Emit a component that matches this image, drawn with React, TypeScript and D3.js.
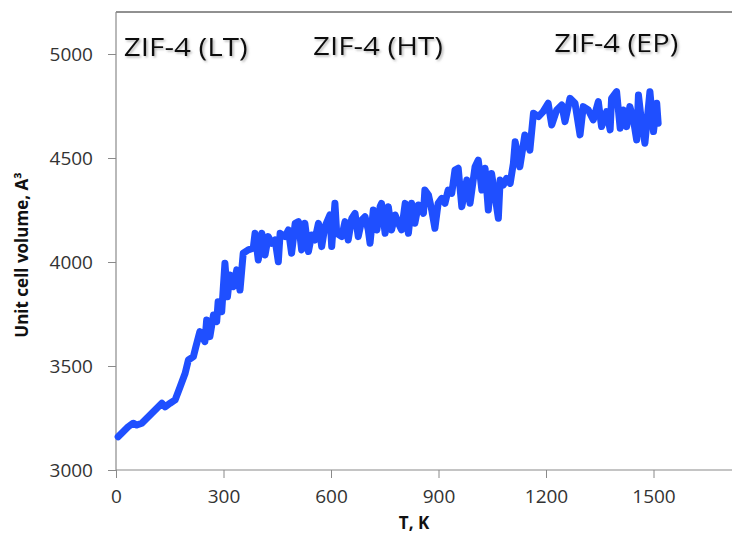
import React, { useEffect, useRef } from "react";
import { select, scaleLinear, axisLeft, axisBottom, line, format } from "d3";

// temperature (K) and unit cell volume (A^3)
const temps = [
  6, 20, 34, 48, 58, 72, 86, 100, 114, 128, 137, 151, 165, 179, 193, 202, 216, 223, 234, 248,
  253, 262, 272, 281, 285, 295, 304, 311, 318, 327, 337, 346, 355, 369, 383, 388, 397, 407, 416, 425,
  435, 444, 453, 458, 472, 481, 490, 500, 509, 518, 527, 537, 546, 555, 565, 574, 583, 597, 602, 611,
  616, 630, 639, 648, 658, 667, 676, 686, 695, 704, 709, 718, 728, 737, 741, 751, 760, 769, 779, 788,
  797, 807, 816, 825, 834, 844, 858, 862, 872, 881, 890, 899, 909, 918, 927, 937, 946, 955, 965, 979,
  988, 1002, 1011, 1021, 1030, 1039, 1048, 1058, 1067, 1072, 1081, 1090, 1100, 1109, 1114, 1127, 1141, 1155, 1165, 1179,
  1192, 1206, 1216, 1230, 1244, 1253, 1267, 1281, 1295, 1304, 1318, 1332, 1346, 1355, 1369, 1379, 1383, 1397, 1407, 1416,
  1425, 1434, 1444, 1453, 1458, 1467, 1476, 1490, 1500, 1509, 1513,
];
const volumes = [
  3160, 3184, 3208, 3225, 3216, 3225, 3249, 3273, 3297, 3321, 3304, 3321, 3337, 3400, 3465, 3529, 3545, 3593, 3665, 3617,
  3721, 3641, 3745, 3713, 3809, 3761, 3994, 3833, 3938, 3881, 3962, 3865, 4042, 4058, 4066, 4138, 4010, 4138, 4034, 4122,
  4090, 4106, 4001, 4138, 4122, 4154, 4042, 4186, 4194, 4058, 4186, 4050, 4130, 4106, 4186, 4074, 4170, 4226, 4074, 4282,
  4138, 4122, 4194, 4106, 4210, 4234, 4122, 4202, 4218, 4154, 4090, 4250, 4154, 4266, 4282, 4138, 4266, 4154, 4226, 4186,
  4154, 4282, 4138, 4282, 4186, 4274, 4234, 4346, 4322, 4250, 4162, 4282, 4306, 4282, 4346, 4330, 4442, 4451, 4266, 4394,
  4282, 4458, 4490, 4346, 4451, 4250, 4426, 4314, 4210, 4394, 4370, 4402, 4378, 4475, 4578, 4458, 4611, 4538, 4715, 4699,
  4723, 4763, 4659, 4731, 4755, 4675, 4787, 4763, 4611, 4747, 4731, 4683, 4771, 4651, 4723, 4635, 4787, 4819, 4643, 4731,
  4651, 4747, 4683, 4587, 4803, 4667, 4571, 4819, 4627, 4763, 4667,
];

const xTicks = [0, 300, 600, 900, 1200, 1500];
const yTicks = [3000, 3500, 4000, 4500, 5000];

const phaseLabels = ["ZIF-4 (LT)", "ZIF-4 (HT)", "ZIF-4 (EP)"];
const phaseT = [22, 550, 1223];
const phaseV = [4990, 4995, 5010];

const W = 732;
const H = 535;
const left = 116;
const top = 12;
const bottom = 470;

const App = () => {
  const xRef = useRef<SVGGElement>(null);
  const yRef = useRef<SVGGElement>(null);

  const x = scaleLinear().domain([0, 1500]).range([left, 653.5]);
  const y = scaleLinear().domain([3000, 5000]).range([bottom, 54]);

  const path = line<number>()
    .x((_, i) => x(temps[i]))
    .y((v) => y(v))(volumes);

  useEffect(() => {
    const fmt = format("d");
    const xa = select(xRef.current);
    xa.call(axisBottom(x).tickValues(xTicks).tickFormat(fmt as any).tickSize(8).tickPadding(12));
    xa.select(".domain").remove();
    xa.selectAll("line").attr("stroke", "#8a8a8a");
    xa.selectAll("text")
      .attr("fill", "#333")
      .style("font-family", "'Open Sans', sans-serif")
      .style("font-size", "19px");

    const ya = select(yRef.current);
    ya.call(axisLeft(y).tickValues(yTicks).tickFormat(fmt as any).tickSize(8).tickPadding(15));
    ya.select(".domain").remove();
    ya.selectAll("line").attr("stroke", "#8a8a8a");
    ya.selectAll("text")
      .attr("fill", "#333")
      .style("font-family", "'Open Sans', sans-serif")
      .style("font-size", "19px");
  }, []);

  return (
    <svg width={W} height={H} style={{ position: "absolute", left: 0, top: 0, background: "#fff" }}>
      <defs>
        <filter id="shadow" x="-10%" y="-30%" width="130%" height="180%">
          <feDropShadow dx="1.5" dy="1.5" stdDeviation="1" floodColor="#777" floodOpacity="0.55" />
        </filter>
      </defs>
      <line x1={left} x2={W} y1={top} y2={top} stroke="#222" strokeWidth={1} />
      <line x1={left} x2={left} y1={top} y2={bottom} stroke="#8a8a8a" strokeWidth={1.2} />
      <line x1={left} x2={W} y1={bottom} y2={bottom} stroke="#8a8a8a" strokeWidth={1.2} />
      <g ref={xRef} transform={`translate(0,${bottom})`} />
      <g ref={yRef} transform={`translate(${left},0)`} />

      <path
        d={path ?? ""}
        fill="none"
        stroke="#1f4fff"
        strokeWidth={7}
        strokeLinejoin="round"
        strokeLinecap="round"
      />

      {phaseLabels.map((t, i) => (
        <text
          key={t}
          x={x(phaseT[i])}
          y={y(phaseV[i])}
          fontFamily="'Open Sans', sans-serif"
          fontSize={26}
          fill="#111"
          textLength={i === 1 ? 130 : 124}
          lengthAdjust="spacingAndGlyphs"
          filter="url(#shadow)"
        >
          {t}
        </text>
      ))}

      <text
        x={414}
        y={529}
        textAnchor="middle"
        fontFamily="'Open Sans', sans-serif"
        fontWeight="bold"
        fontSize={17}
        fill="#111"
      >
        T, K
      </text>
      <text
        transform={`translate(28,${(163 + 347) / 2}) rotate(-90)`}
        textAnchor="middle"
        fontFamily="'Open Sans', sans-serif"
        fontWeight="bold"
        fontSize={17}
        fill="#111"
      >
        Unit cell volume, A³
      </text>
    </svg>
  );
};

export default App;
